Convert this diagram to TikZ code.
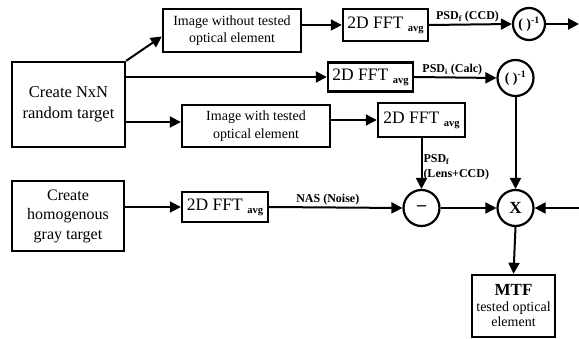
\documentclass[tikz,border=0pt]{standalone}
\usepackage{fontspec}
\setmainfont{Liberation Serif}
\usetikzlibrary{arrows.meta,calc}
\begin{document}
\begin{tikzpicture}[x=1pt,y=-1pt,
 box/.style={draw, line width=2.4pt, inner sep=0pt, align=center},
 circ/.style={draw, circle, line width=2.2pt, inner sep=0pt, font=\bfseries\fontsize{14}{15}\selectfont},
 fft/.style={box, font=\fontsize{17.5}{18}\selectfont},
 arr/.style={line width=2pt, -{Triangle[length=11pt,width=11pt]}},
 lab/.style={font=\bfseries\fontsize{12}{13}\selectfont, inner sep=1pt}]
\useasboundingbox (0,0) rectangle (579,339);
\newcommand{\fftlabel}{2D FFT \raisebox{-0.35ex}{\bfseries\fontsize{10.5}{11}\selectfont avg}}
% boxes
\node[box, minimum width=113pt, minimum height=85pt, font=\fontsize{16.5}{21}\selectfont] (nxn) at (68.5,104.5) {Create NxN\\random target};
\node[box, minimum width=112pt, minimum height=70pt, font=\fontsize{16}{19.5}\selectfont] (homo) at (68,216) {Create\\homogenous\\gray target};
\node[box, minimum width=138pt, minimum height=43pt, font=\fontsize{14}{17.5}\selectfont] (imgwo) at (232,30.5) {Image without tested\\optical element};
\node[box, minimum width=148pt, minimum height=42pt, font=\fontsize{14}{17.5}\selectfont] (imgw) at (256,126) {Image with tested\\optical element};
\node[fft, minimum width=85pt, minimum height=32pt] (fft1) at (385.5,25) {\fftlabel};
\node[fft, minimum width=85pt, minimum height=29pt] (fft2) at (370.5,77) {\fftlabel};
\node[fft, minimum width=87pt, minimum height=34pt] (fft3) at (421.5,120) {\fftlabel};
\node[fft, minimum width=86pt, minimum height=30pt] (fft4) at (225,207) {\fftlabel};
\node[box, minimum width=83pt, minimum height=62pt, font=\fontsize{14}{15.5}\selectfont] (mtf) at (513.5,306) {{\bfseries\fontsize{17}{17}\selectfont MTF}\\tested optical\\element};
% circles
\node[circ, minimum size=32pt] (c1) at (529,24) {( )\textsuperscript{-1}};
\node[circ, minimum size=36pt] (c2) at (515.5,78) {( )\textsuperscript{-1}};
\node[circ, minimum size=36pt, font=\bfseries\fontsize{18}{18}\selectfont] (cm) at (421.5,208) {--};
\node[circ, minimum size=36pt, font=\bfseries\fontsize{17}{17}\selectfont] (cx) at (515.5,208) {X};
% free ends
\coordinate (out1) at (579,24);
\coordinate (in4) at (579,208);
% connectors
\draw[arr] (nxn.north east) -- ($(imgwo.west)+(0,6)$);
\draw[arr] (imgwo.east |- fft1.west) -- (fft1.west);
\draw[arr] (fft1.east) -- node[lab, above, xshift=-3pt] {PSD\textsubscript{f} (CCD)} (c1.west);
\draw[arr] (c1.east) -- (out1);
\draw[arr] (nxn.east |- fft2.west) -- (fft2.west);
\draw[arr] (fft2.east) -- node[lab, above, xshift=-3pt] {PSD\textsubscript{i} (Calc)} (c2.west);
\draw[arr] (nxn.east |- 0,122) -- (imgw.west |- 0,122);
\draw[arr] (imgw.east |- fft3.west) -- (fft3.west);
\draw[arr] (fft3.south) -- node[lab, right, align=left, yshift=-4pt, font=\bfseries\fontsize{12}{15}\selectfont] {PSD\textsubscript{f}\\(Lens+CCD)} (cm.north);
\draw[arr] (homo.east |- fft4.west) -- (fft4.west);
\draw[arr] (fft4.east) -- node[lab, above, xshift=-8pt] {NAS (Noise)} (cm.west);
\draw[arr] (cm.east) -- (cx.west);
\draw[arr] (in4) -- (cx.east);
\draw[arr] (c2.south) -- (cx.north);
\draw[arr] (cx.south) -- (mtf.north);
\end{tikzpicture}
\end{document}
